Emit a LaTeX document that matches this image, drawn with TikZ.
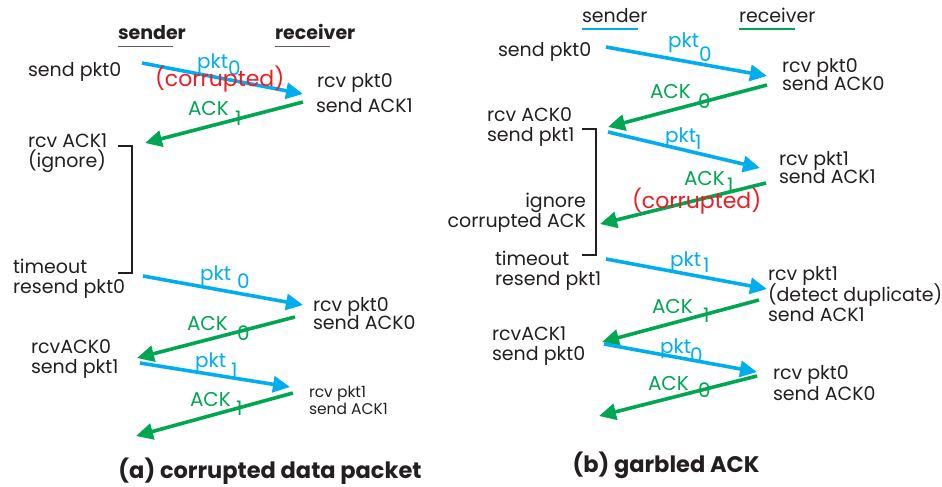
\documentclass[tikz,border=0pt]{standalone}
\usepackage{fontspec}
\setmainfont{Poppins}
\usetikzlibrary{arrows.meta}
\definecolor{pktblue}{HTML}{00AEEF}
\definecolor{ackgreen}{HTML}{00A651}
\definecolor{errred}{HTML}{ED1C24}
\definecolor{ink}{HTML}{231F20}
\definecolor{rulegray}{HTML}{5A5A5A}
\begin{document}
\begin{tikzpicture}[x=1pt,y=-1pt,
  every node/.style={inner sep=0pt, outer sep=0pt},
  txt/.style={font=\fontsize{19}{23}\selectfont, text=ink, anchor=base west},
  txtr/.style={txt, anchor=base east},
  small/.style={font=\fontsize{15.5}{18}\selectfont, text=ink, anchor=base west},
  head/.style={font=\fontsize{19}{23}\selectfont\bfseries, text=ink, anchor=base west},
  plain/.style={font=\fontsize{19}{23}\selectfont, text=ink, anchor=base west},
  title/.style={font=\fontsize{22.5}{26}\selectfont\bfseries, text=ink, anchor=base},
  pktlbl/.style={font=\fontsize{20}{24}\selectfont, text=pktblue, anchor=base west},
  acklbl/.style={font=\fontsize{20}{24}\selectfont, text=ackgreen, anchor=base west},
  errlbl/.style={font=\fontsize{22}{26}\selectfont, text=errred, anchor=base west},
  pktarrow/.style={draw=pktblue, line width=3.6pt, -{Triangle[length=17pt,width=16pt]}},
  ackarrow/.style={draw=ackgreen, line width=3.6pt, -{Triangle[length=17pt,width=16pt]}},
  bracket/.style={draw=ink, line width=2.4pt},
]
\useasboundingbox (0,0) rectangle (942,487);

% ---------------- (a) corrupted data packet ----------------
\node[head] (aS) at (118,40) {sender};
\node[head] (aR) at (275,40) {receiver};
\draw[rulegray, line width=1.6pt] (aS.base west) ++(0,6.5) coordinate (aSu1) -- ++(55,0) coordinate (aSu2);
\draw[rulegray, line width=1.6pt] (aR.base west) ++(0,6.5) coordinate (aRu1) -- ++(55,0) coordinate (aRu2);

% arrow end points
\coordinate (a1s) at (142,63);  \coordinate (a1e) at (303,94);
\coordinate (a2s) at (303,102); \coordinate (a2e) at (145,143);
\coordinate (a3s) at (143,276); \coordinate (a3e) at (303,305);
\coordinate (a4s) at (295,317); \coordinate (a4e) at (137,358);
\coordinate (a5s) at (140,363); \coordinate (a5e) at (290,387);
\coordinate (a6s) at (293,393); \coordinate (a6e) at (136,436);

\draw[pktarrow] (a1s) -- (a1e);
\draw[ackarrow] (a2s) -- (a2e);
\draw[pktarrow] (a3s) -- (a3e);
\draw[ackarrow] (a4s) -- (a4e);
\draw[pktarrow] (a5s) -- (a5e);
\draw[ackarrow] (a6s) -- (a6e);

% waiting bracket on the sender side
\coordinate (ab1) at (118,146); \coordinate (ab2) at (132,146);
\coordinate (ab3) at (132,273); \coordinate (ab4) at (118,273);
\draw[bracket] (ab1) -- (ab2) -- (ab3) -- (ab4);

% sender events
\node[txt] (aT1) at (28,77) {send pkt0};
\node[txt] (aT2) at (28,147) {rcv ACK1};
\node[txt] (aT3) at (28,167) {(ignore)};
\node[txt] (aT4) at (13,273) {timeout};
\node[txt] (aT5) at (13,293) {resend pkt0};
\node[txt] (aT6) at (31,353) {rcvACK0};
\node[txt] (aT7) at (31,373) {send pkt1};

% receiver events
\node[txt] (aR1) at (317,88) {rcv pkt0};
\node[txt] (aR2) at (316,112) {send ACK1};
\node[txt] (aR3) at (313,311) {rcv pkt0};
\node[txt] (aR4) at (313,329) {send ACK0};
\node[small] (aR5) at (309,397) {rcv pkt1};
\node[small] (aR6) at (309,414) {send ACK1};

% message labels
\node[pktlbl] (aL1) at (197,68) {pkt};  \node[pktlbl] (aL1s) at (228,75) {0};
\node[errlbl] (aE1) at (155,86) {(corrupted)};
\node[acklbl] (aL2) at (188,115) {ACK}; \node[acklbl] (aL2s) at (235,125) {1};
\node[pktlbl] (aL3) at (200,280) {pkt};  \node[pktlbl] (aL3s) at (237,288) {0};
\node[acklbl] (aL4) at (187,330) {ACK}; \node[acklbl] (aL4s) at (237,340) {0};
\node[pktlbl] (aL5) at (195,367) {pkt};  \node[pktlbl] (aL5s) at (231,377) {1};
\node[acklbl] (aL6) at (190,406) {ACK}; \node[acklbl] (aL6s) at (236,415) {1};

\node[title] (aTitle) at (270,478) {(a) corrupted data packet};

% ---------------- (b) garbled ACK ----------------
\node[plain] (bS) at (582,22.7) {sender};
\node[plain] (bR) at (739,22.7) {receiver};
\draw[pktblue, line width=2pt] (bS.base west) ++(0,6.5) coordinate (bSu1) -- ++(56,0) coordinate (bSu2);
\draw[ackgreen, line width=2pt] (bR.base west) ++(0,6.5) coordinate (bRu1) -- ++(56,0) coordinate (bRu2);

\coordinate (b1s) at (606,47);  \coordinate (b1e) at (767,76);
\coordinate (b2s) at (767,85);  \coordinate (b2e) at (608,127);
\coordinate (b3s) at (608,132); \coordinate (b3e) at (760,168);
\coordinate (b4s) at (766,183); \coordinate (b4e) at (600,224);
\coordinate (b5s) at (606,259); \coordinate (b5e) at (767,289);
\coordinate (b6s) at (759,300); \coordinate (b6e) at (602,342);
\coordinate (b7s) at (604,344); \coordinate (b7e) at (757,372);
\coordinate (b8s) at (757,376); \coordinate (b8e) at (599,416);

\draw[pktarrow] (b1s) -- (b1e);
\draw[ackarrow] (b2s) -- (b2e);
\draw[pktarrow] (b3s) -- (b3e);
\draw[ackarrow] (b4s) -- (b4e);
\draw[pktarrow] (b5s) -- (b5e);
\draw[ackarrow] (b6s) -- (b6e);
\draw[pktarrow] (b7s) -- (b7e);
\draw[ackarrow] (b8s) -- (b8e);

\coordinate (bb1) at (582,129); \coordinate (bb2) at (596,129);
\coordinate (bb3) at (596,255); \coordinate (bb4) at (582,255);
\draw[bracket] (bb1) -- (bb2) -- (bb3) -- (bb4);

% sender events
\node[txt] (bT1) at (498,57) {send pkt0};
\node[txt] (bT2) at (487,121) {rcv ACK0};
\node[txt] (bT3) at (487,141) {send pkt1};
\node[txtr] (bT4) at (586,207) {ignore};
\node[txtr] (bT5) at (586,227) {corrupted ACK};
\node[txt] (bT6) at (495,265) {timeout};
\node[txt] (bT7) at (495,285) {resend pkt1};
\node[txt] (bT8) at (492,340) {rcvACK1};
\node[txt] (bT9) at (492,360) {send pkt0};

% receiver events
\node[txt] (bR1) at (782,72) {rcv pkt0};
\node[txt] (bR2) at (782,90) {send ACK0};
\node[txt] (bR3) at (779,165) {rcv pkt1};
\node[txt] (bR4) at (779,183) {send ACK1};
\node[txt] (bR5) at (768,280) {rcv pkt1};
\node[txt] (bR6) at (768,301) {(detect duplicate)};
\node[txt] (bR7) at (768,321) {send ACK1};
\node[txt] (bR8) at (773,379) {rcv pkt0};
\node[txt] (bR9) at (773,400) {send ACK0};

% message labels
\node[pktlbl] (bL1) at (668,48) {pkt};  \node[pktlbl] (bL1s) at (699,62) {0};
\node[acklbl] (bL2) at (650,99) {ACK}; \node[acklbl] (bL2s) at (698,108) {0};
\node[pktlbl] (bL3) at (665,142) {pkt}; \node[pktlbl] (bL3s) at (695,149) {1};
\node[acklbl] (bL4) at (684,185) {ACK}; \node[acklbl] (bL4s) at (727,192) {1};
\node[errlbl] (bE1) at (632,208) {(corrupted)};
\node[pktlbl] (bL5) at (670,266) {pkt}; \node[pktlbl] (bL5s) at (703,272) {1};
\node[acklbl] (bL6) at (652,313) {ACK}; \node[acklbl] (bL6s) at (703,322) {1};
\node[pktlbl] (bL7) at (660,353) {pkt}; \node[pktlbl] (bL7s) at (690,362) {0};
\node[acklbl] (bL8) at (648,390) {ACK}; \node[acklbl] (bL8s) at (698,397) {0};

\node[title] (bTitle) at (666,472) {(b) garbled ACK};
\end{tikzpicture}
\end{document}
